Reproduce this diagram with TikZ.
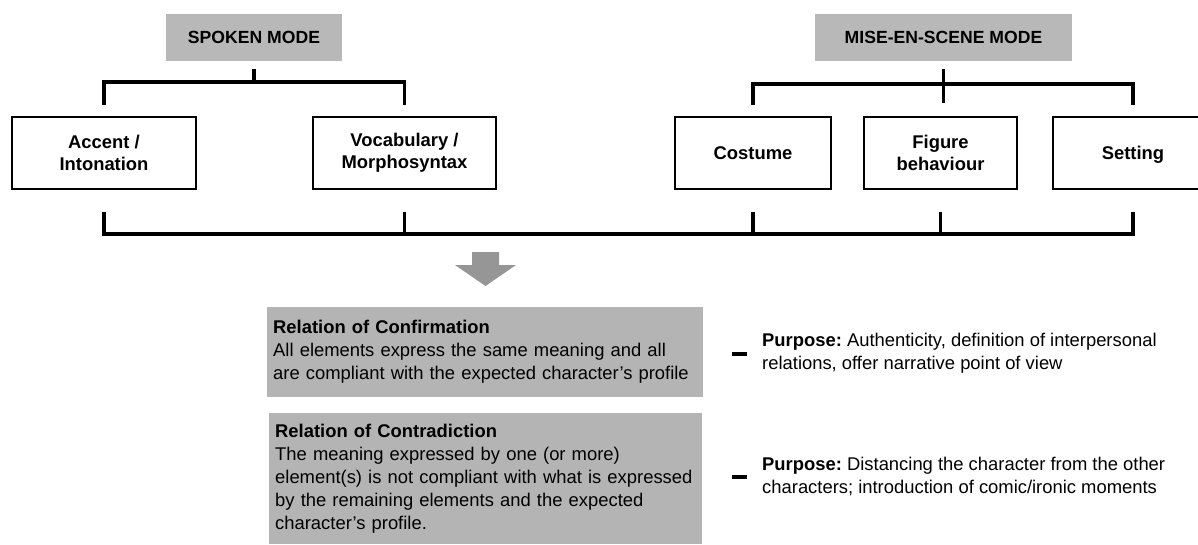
\documentclass[tikz,border=0pt]{standalone}
\usepackage{fontspec}
\setmainfont{Liberation Sans}
\definecolor{modegray}{RGB}{184,184,184}
\definecolor{relgray}{RGB}{180,180,180}
\definecolor{arrowgray}{RGB}{150,150,150}
\frenchspacing
\begin{document}
\begin{tikzpicture}[
    x=1pt,y=-1pt,
    every node/.style={font=\fontsize{18.4}{23}\selectfont},
    modebox/.style={fill=modegray, minimum width=176pt, minimum height=47pt, font=\fontsize{17.6}{21}\selectfont\bfseries},
    itembox/.style={draw=black, line width=1.6pt, fill=white, minimum height=72pt, align=center, font=\fontsize{18.4}{22}\selectfont\bfseries},
    relbox/.style={fill=relgray, anchor=north west, align=left, inner xsep=6pt, inner ysep=11pt},
    bracket/.style={draw=black, line width=3.5pt},
    purpose/.style={anchor=west, align=left, inner sep=0pt},
    bulletbar/.style={draw=black, line width=4pt}
]
    \useasboundingbox (0,0) rectangle (1198,545);
    \clip (0,0) rectangle (1198,545);

    \node[modebox] (spoken) at (254,37.5) {SPOKEN MODE};
    \node[modebox, minimum width=257pt] (mise) at (943.5,37.5) {MISE-EN-SCENE MODE};

    \node[itembox, minimum width=184pt] (accent) at (104,153) {Accent /\\Intonation};
    \node[itembox, minimum width=183pt] (vocab) at (404.5,153) {Vocabulary /\\Morphosyntax};
    \node[itembox, minimum width=156pt] (costume) at (753,153) {Costume};
    \node[itembox, minimum width=153pt] (figure) at (940.5,153) {Figure\\behaviour};
    \node[itembox, minimum width=160pt, text depth=0pt] (setting) at (1133,153) {Setting};

    % upper brackets
    \draw[bracket] ([yshift=-8pt]spoken.south) -- ([yshift=-21pt]spoken.south);
    \draw[bracket] ([yshift=11pt]accent.north) |- ([yshift=-21pt]spoken.south) -| ([yshift=11pt]vocab.north);
    \draw[bracket] ([yshift=-8pt]mise.south) -- ([yshift=13pt]mise.south |- figure.north);
    \draw[bracket] ([yshift=11pt]costume.north) |- ([yshift=-23pt]mise.south) -| ([yshift=11pt]setting.north);

    % lower bracket
    \draw[bracket] ([yshift=-22pt]accent.south) |- ([yshift=-44pt]setting.south) -- ([yshift=-22pt]setting.south);
    \foreach \n in {vocab,costume,figure} {
        \draw[bracket] ([yshift=-22pt]\n.south) -- ([yshift=-44pt]\n.south);
    }

    \fill[arrowgray] (472,252) -- (499,252) -- (499,265) -- (516,265) -- (485.5,286)
        -- (455,265) -- (472,265) -- cycle;

    \node[relbox, minimum width=436pt, minimum height=90pt, text width=424pt] (confirm) at (267,307)
        {\textbf{Relation of Confirmation}\\All elements express the same meaning and all\\are compliant with the expected character's profile};
    \node[relbox, minimum width=433pt, text width=421pt] (contra) at (269,413)
        {\textbf{Relation of Contradiction}\\The meaning expressed by one (or more)\\element(s) is not compliant with what is expressed\\by the remaining elements and the expected\\character's profile.};

    \node[purpose] (purp1) at (762,353.5)
        {\textbf{Purpose:} Authenticity, definition of interpersonal\\relations, offer narrative point of view};
    \node[purpose] (purp2) at (762,477)
        {\textbf{Purpose:} Distancing the character from the other\\characters; introduction of comic/ironic moments};
    \draw[bulletbar] ([xshift=-30pt]purp1.west) -- ([xshift=-15pt]purp1.west);
    \draw[bulletbar] ([xshift=-30pt]purp2.west) -- ([xshift=-15pt]purp2.west);
\end{tikzpicture}
\end{document}
